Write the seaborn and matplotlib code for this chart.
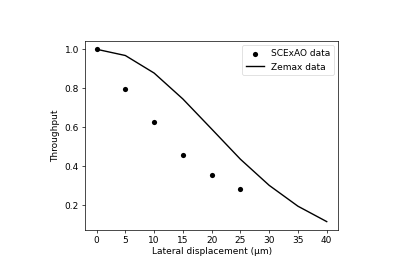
import matplotlib
matplotlib.use('Agg')
import matplotlib.pyplot as plt
import seaborn as sns
import pandas as pd

# measured points
scexao_x = [0, 5, 10, 15, 20, 25]
scexao_y = [1.0, 0.795, 0.628, 0.46, 0.355, 0.281]

# simulated curve
zemax_x = [0, 5, 10, 15, 20, 25, 30, 35, 40]
zemax_y = [1.0, 0.968, 0.878, 0.745, 0.591, 0.436, 0.302, 0.195, 0.116]

df_s = pd.DataFrame({'x': scexao_x, 'y': scexao_y})
df_z = pd.DataFrame({'x': zemax_x, 'y': zemax_y})

plt.rcParams['font.family'] = ['DejaVu Sans']
plt.rcParams['font.size'] = 6.5

fig = plt.figure(figsize=(4.15, 2.69), dpi=100)
ax = fig.add_axes([0.205, 0.145, 0.61, 0.703])

sns.scatterplot(data=df_s, x='x', y='y', ax=ax, color='black', s=14,
                linewidth=0, label='SCExAO data', zorder=3)
sns.lineplot(data=df_z, x='x', y='y', ax=ax, color='black', linewidth=1.0,
             label='Zemax data')

ax.set_xticks([0, 5, 10, 15, 20, 25, 30, 35, 40])
ax.set_yticks([0.2, 0.4, 0.6, 0.8, 1.0])
ax.set_xlim(-2.0, 42.0)
ax.set_ylim(0.073, 1.043)
ax.tick_params(length=2.3, width=0.5, labelsize=6.5, pad=2)
for sp in ax.spines.values():
    sp.set_linewidth(0.5)

ax.set_xlabel('Lateral displacement (µm)', fontsize=6.5, labelpad=1.5)
ax.set_ylabel('Throughput', fontsize=6.5, labelpad=3)
leg = ax.legend(loc='upper right', fontsize=6.5, frameon=True)
leg.get_frame().set_linewidth(0.5)

fig.savefig('out.png', dpi=100)
